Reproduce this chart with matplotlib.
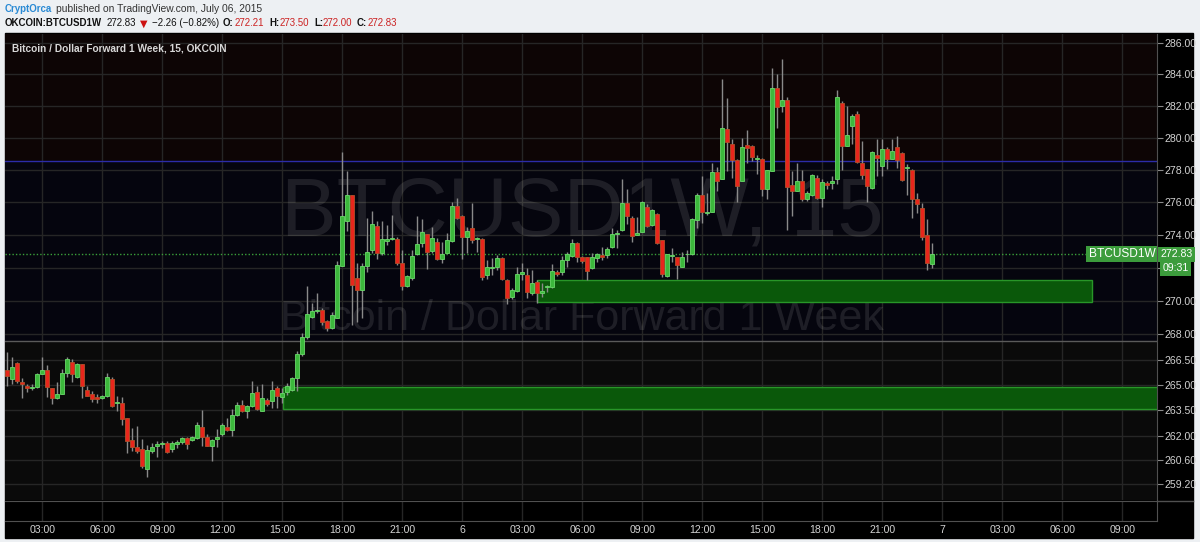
import matplotlib
matplotlib.use('Agg')
import matplotlib.pyplot as plt
from matplotlib.patches import Rectangle
from matplotlib.ticker import FixedLocator, NullLocator, FuncFormatter

plt.rcParams['font.family'] = ['Liberation Sans', 'DejaVu Sans']

# OKCOIN:BTCUSD1W, 15 minute bars, first bar 2015-07-05 01:15
opens = [265.85, 265.36, 266.32, 265.18, 264.95, 264.82, 264.87, 265.67, 265.85, 264.83,
         264.21, 264.46, 265.71, 266.36, 265.44, 266.22, 264.67, 264.46, 264.28, 264.25,
         264.32, 265.36, 263.95, 263.95, 263.06, 261.78, 261.35, 261.26, 260.06, 261.14,
         261.43, 261.55, 261.59, 261.25, 261.55, 261.63, 261.88, 261.74, 261.86, 262.53,
         261.96, 261.43, 261.84, 262.13, 262.53, 262.33, 263.23, 263.79, 263.44, 263.74,
         264.58, 263.44, 264.13, 264.03, 264.82, 264.29, 264.56, 264.67, 265.40, 266.83,
         267.82, 269.05, 269.39, 269.45, 268.79, 268.36, 269.01, 272.12, 274.89, 276.46,
         271.41, 270.67, 272.12, 273.09, 274.56, 272.89, 273.65, 273.74, 273.76, 272.32,
         270.93, 271.41, 272.83, 273.53, 274.04, 273.05, 273.56, 272.53, 272.93, 273.65,
         275.81, 275.19, 273.90, 274.42, 273.74, 273.76, 271.59, 272.02, 272.04, 272.59,
         271.27, 270.22, 270.62, 271.64, 271.58, 270.50, 271.17, 270.50, 270.83, 270.87,
         271.78, 271.78, 272.48, 272.71, 273.50, 272.65, 272.65, 271.98, 272.59, 272.77,
         272.79, 273.25, 274.04, 274.31, 275.94, 275.04, 274.00, 274.21, 275.71, 274.63,
         275.31, 273.70, 271.52, 272.73, 272.65, 272.04, 272.83, 272.85, 274.94, 276.46,
         275.36, 275.39, 277.86, 277.44, 280.56, 279.63, 278.64, 277.33, 279.56, 279.52,
         278.69, 278.69, 276.86, 277.92, 283.11, 281.98, 282.38, 277.06, 276.71, 277.33,
         276.19, 276.44, 277.50, 276.25, 277.23, 277.19, 277.48, 282.17, 279.52, 280.73,
         281.50, 278.44, 278.06, 276.92, 278.94, 278.27, 279.31, 278.69, 279.42, 279.06,
         278.15, 278.02, 276.23, 275.67, 274.00, 272.21]
highs = [266.96, 266.65, 266.36, 265.42, 265.07, 265.07, 265.70, 266.65, 266.18, 264.83,
         265.18, 265.96, 266.67, 266.53, 266.28, 266.24, 264.91, 264.62, 264.48, 264.42,
         265.69, 265.44, 264.36, 264.29, 263.06, 262.49, 262.60, 261.84, 261.49, 261.57,
         261.68, 261.72, 261.68, 261.72, 261.78, 261.92, 261.92, 262.02, 262.84, 263.50,
         262.13, 261.84, 262.43, 262.78, 263.03, 263.60, 263.99, 264.13, 263.79, 265.24,
         264.91, 265.07, 264.20, 265.24, 264.91, 264.82, 265.11, 265.48, 267.00, 268.06,
         270.91, 269.88, 270.48, 269.58, 268.85, 269.33, 272.44, 279.11, 277.92, 276.46,
         272.32, 272.32, 275.06, 275.46, 274.88, 274.88, 274.63, 275.25, 273.90, 273.09,
         271.58, 273.09, 275.19, 275.00, 274.04, 274.48, 273.80, 273.59, 274.11, 276.06,
         276.29, 275.25, 274.52, 275.98, 273.90, 273.84, 272.48, 272.59, 272.79, 272.65,
         271.32, 270.77, 272.04, 272.28, 272.00, 271.88, 271.27, 271.11, 270.97, 272.24,
         271.88, 272.73, 272.95, 273.78, 273.58, 272.73, 272.65, 272.93, 272.93, 273.29,
         273.29, 274.42, 274.31, 277.44, 276.81, 275.19, 275.08, 276.08, 275.88, 275.63,
         275.36, 273.70, 272.85, 273.19, 272.69, 272.99, 273.09, 275.04, 276.56, 277.64,
         276.56, 278.42, 278.17, 283.69, 282.48, 279.94, 278.69, 279.98, 280.50, 279.56,
         278.94, 278.73, 278.02, 284.42, 284.00, 284.98, 282.54, 277.96, 278.44, 278.02,
         276.71, 277.75, 277.69, 277.48, 277.33, 277.64, 283.02, 282.33, 282.02, 281.50,
         281.71, 279.83, 278.06, 279.21, 279.94, 279.94, 279.46, 279.94, 280.11, 279.11,
         278.38, 278.06, 276.61, 275.98, 275.00, 273.50]
lows = [264.95, 265.07, 265.13, 264.25, 264.60, 264.72, 264.82, 265.65, 264.30, 263.89,
        264.19, 264.46, 265.48, 265.18, 265.40, 264.25, 264.32, 263.99, 263.93, 264.19,
        264.28, 263.68, 263.48, 262.62, 261.02, 261.10, 261.02, 260.14, 259.61, 261.00,
        260.77, 261.31, 261.00, 261.04, 261.29, 261.55, 261.25, 261.68, 261.82, 261.43,
        261.39, 260.51, 261.35, 261.98, 262.27, 262.02, 263.19, 263.40, 263.07, 263.68,
        263.54, 263.44, 263.74, 263.66, 263.66, 263.93, 264.42, 264.62, 264.62, 266.71,
        267.71, 268.97, 269.27, 268.55, 268.18, 268.30, 268.97, 272.12, 274.27, 268.55,
        268.73, 268.97, 271.74, 272.93, 272.53, 272.79, 273.39, 273.70, 272.18, 270.67,
        270.87, 271.27, 272.79, 273.29, 271.92, 272.89, 272.48, 272.32, 272.89, 273.59,
        275.00, 272.53, 272.89, 273.53, 272.99, 271.27, 271.32, 271.58, 271.88, 271.27,
        269.82, 270.12, 270.56, 271.27, 270.16, 270.36, 269.86, 270.26, 270.56, 270.77,
        271.52, 271.58, 272.08, 272.67, 272.36, 272.28, 271.27, 271.92, 272.38, 272.48,
        272.59, 273.21, 273.19, 274.27, 274.69, 273.59, 274.00, 274.17, 274.52, 274.56,
        273.45, 271.44, 271.47, 272.38, 271.32, 272.04, 272.38, 272.79, 274.42, 274.73,
        275.25, 275.39, 276.71, 277.44, 277.96, 277.54, 276.02, 277.31, 278.44, 278.58,
        277.75, 276.39, 276.23, 277.92, 280.61, 281.61, 274.31, 275.14, 276.69, 276.08,
        276.08, 276.39, 276.19, 275.73, 276.81, 276.81, 277.13, 278.02, 279.48, 279.63,
        278.44, 277.44, 276.02, 276.81, 277.64, 277.64, 278.06, 278.69, 278.11, 277.33,
        276.46, 275.04, 275.36, 273.70, 271.90, 272.00]
closes = [265.54, 266.06, 265.20, 265.07, 264.83, 264.87, 265.67, 265.85, 264.87, 264.25,
          264.48, 265.73, 266.53, 265.67, 266.24, 264.91, 264.36, 264.19, 264.17, 264.36,
          265.44, 263.78, 264.01, 263.00, 261.68, 261.35, 261.14, 260.26, 261.20, 261.37,
          261.55, 261.59, 261.04, 261.59, 261.67, 261.88, 261.55, 261.92, 262.62, 261.94,
          261.43, 261.78, 261.94, 262.62, 262.33, 263.23, 263.79, 263.44, 263.76, 264.52,
          263.59, 264.23, 263.88, 264.72, 264.32, 264.52, 264.95, 265.40, 266.83, 267.82,
          269.25, 269.41, 269.45, 268.73, 268.36, 269.19, 272.18, 275.19, 276.46, 270.97,
          270.67, 272.12, 272.95, 274.69, 272.89, 273.74, 273.74, 273.82, 272.28, 270.91,
          271.52, 272.73, 273.44, 274.17, 272.99, 273.82, 272.53, 272.85, 273.70, 275.81,
          275.04, 273.90, 274.23, 273.70, 273.82, 271.44, 272.04, 272.08, 272.59, 271.32,
          270.16, 270.67, 271.64, 271.74, 270.56, 271.11, 270.50, 270.62, 270.91, 271.82,
          271.64, 272.48, 272.85, 273.50, 272.65, 272.44, 271.84, 272.65, 272.85, 272.65,
          273.13, 274.04, 274.14, 275.94, 275.19, 273.94, 274.14, 276.02, 274.56, 275.56,
          273.50, 271.64, 272.83, 272.81, 272.18, 272.65, 272.85, 274.98, 276.44, 275.39,
          275.42, 277.86, 277.33, 280.61, 279.73, 278.64, 277.02, 279.46, 279.36, 278.79,
          278.73, 276.81, 278.02, 283.17, 281.92, 282.39, 276.98, 276.71, 277.33, 276.19,
          276.56, 277.69, 276.29, 277.29, 277.08, 277.33, 282.58, 279.52, 280.19, 281.39,
          278.48, 277.69, 277.02, 279.14, 278.73, 279.31, 278.69, 279.21, 278.64, 277.39,
          278.19, 276.19, 275.88, 273.88, 272.30, 272.83]

price_ticks = [286.00, 284.00, 282.00, 280.00, 278.00, 276.00, 274.00, 272.00,
               270.00, 268.00, 266.50, 265.00, 263.50, 262.00, 260.60, 259.20]
hidden_tick = 272.00  # its label sits under the countdown box
time_tick_bars = [7, 19, 31, 43, 55, 67, 79, 91, 103, 115, 127, 139, 151, 163,
                  175, 187, 199, 211, 223]
time_labels = ['03:00', '06:00', '09:00', '12:00', '15:00', '18:00', '21:00', '6',
               '03:00', '06:00', '09:00', '12:00', '15:00', '18:00', '21:00', '7',
               '03:00', '06:00', '09:00']

last_price = 272.83
upper_level = 278.57
lower_level = 267.61
# drawn support zones: (from bar, to bar, low, high)
zones = [(105.9, 216.9, 269.94, 271.27),
         (55.1, 260.0, 263.58, 264.87)]

W, H = 1200, 542


def fx(px):
    return px / W


def fy(py):
    return 1 - py / H


fig = plt.figure(figsize=(W / 100, H / 100), dpi=100, facecolor='#edf0f3')

# black chart frame (price and time scales sit on it)
fig.patches.append(Rectangle((fx(5), fy(538)), fx(1193) - fx(5), fy(33) - fy(538),
                             transform=fig.transFigure, color='black', zorder=-5))

ax = fig.add_axes([fx(5), fy(500), fx(1157) - fx(5), fy(34) - fy(500)])
ax.set_facecolor('black')
ax.set_yscale('log')
ax.set_ylim(258.28, 286.57)
ax.set_xlim(-0.46, 229.94)

ax.axhspan(upper_level, 300, color='#0d0505', zorder=0)
ax.axhspan(lower_level, upper_level, color='#05050e', zorder=0)
ax.axhspan(250, lower_level, color='#0a0a0a', zorder=0)
ax.axhline(upper_level, color='#2c2ca8', lw=1, zorder=0.6)
ax.axhline(lower_level, color='#5a5a5a', lw=1, zorder=0.6)

for t in time_tick_bars:
    ax.axvline(t, color='#262626', lw=1, zorder=0.5)
for p in price_ticks:
    ax.axhline(p, color='#262626', lw=1, zorder=0.5)

ax.text(115, 275.3, 'BTCUSD1W, 15', ha='center', va='center', fontsize=60,
        color='white', alpha=0.1, zorder=0.7)
ax.text(115, 268.95, 'Bitcoin / Dollar Forward 1 Week', ha='center', va='center',
        fontsize=31, color='white', alpha=0.1, zorder=0.7)

for x0, x1, lo, hi in zones:
    ax.add_patch(Rectangle((x0, lo), x1 - x0, hi - lo, facecolor='#0a580a',
                           edgecolor='#289628', lw=1, zorder=1))

ax.axhline(last_price, color='#3aa03a', lw=1, ls=(0, (1, 1.5)), zorder=1.5)

idx = list(range(len(opens)))
up_x = [i for i in idx if closes[i] >= opens[i]]
dn_x = [i for i in idx if closes[i] < opens[i]]
ax.vlines(idx, lows, highs, color='#8a8a8a', lw=1, zorder=2)
ax.bar(up_x, [max(closes[i] - opens[i], 0.02) for i in up_x],
       bottom=[opens[i] for i in up_x], width=0.74, color='#3cb83c',
       edgecolor='#6ad86a', lw=0.6, zorder=3)
ax.bar(dn_x, [max(opens[i] - closes[i], 0.02) for i in dn_x],
       bottom=[closes[i] for i in dn_x], width=0.74, color='#e8261c',
       edgecolor='#b0502a', lw=0.6, zorder=3)

ax.yaxis.set_major_locator(FixedLocator(price_ticks))
ax.yaxis.set_minor_locator(NullLocator())
ax.yaxis.set_major_formatter(
    FuncFormatter(lambda v, pos: '' if abs(v - hidden_tick) < 0.01 else '%.2f' % v))
ax.yaxis.tick_right()
ax.tick_params(axis='y', colors='#8a8a8a', labelcolor='#d2d2d2', labelsize=7.6,
               length=4, pad=1.5)
ax.set_xticks([])
for s in ['left', 'top', 'bottom']:
    ax.spines[s].set_visible(False)
ax.spines['right'].set_color('#505050')

# last price labels
ax.text(229.6, last_price, 'BTCUSD1W', ha='right', va='center', fontsize=8.6,
        color='white', zorder=5,
        bbox=dict(boxstyle='square,pad=0.18', fc='#3c9c3c', ec='none'))
ax.text(1.003, last_price, '272.83', transform=ax.get_yaxis_transform(), ha='left',
        va='center', fontsize=7.6, color='white', zorder=5, clip_on=False,
        bbox=dict(boxstyle='square,pad=0.25', fc='#3c9c3c', ec='none'))
ax.text(1.0045, 271.98, '09:31', transform=ax.get_yaxis_transform(), ha='left',
        va='center', fontsize=7.6, color='white', zorder=6, clip_on=False,
        bbox=dict(boxstyle='square,pad=0.25', fc='#3c9c3c', ec='none'))

ax.text(0.006, 0.968, 'Bitcoin / Dollar Forward 1 Week, 15, OKCOIN',
        transform=ax.transAxes, ha='left', va='center', fontsize=7.3,
        fontweight='bold', color='#d8d8d8', zorder=6)

# lower empty pane with the time scale
ax2 = fig.add_axes([fx(5), fy(521), fx(1157) - fx(5), fy(501) - fy(521)])
ax2.set_facecolor('black')
ax2.set_xlim(ax.get_xlim())
ax2.set_ylim(0, 1)
ax2.set_yticks([])
ax2.set_xticks(time_tick_bars)
ax2.set_xticklabels(time_labels)
ax2.grid(axis='x', color='#262626', lw=1)
ax2.tick_params(axis='x', colors='#262626', labelcolor='#d2d2d2', labelsize=7.6,
                length=0, pad=3)
ax2.spines['left'].set_visible(False)
ax2.spines['top'].set_color('#505050')
ax2.spines['bottom'].set_color('#505050')
ax2.spines['right'].set_color('#505050')
fig.add_artist(plt.Line2D([fx(1157), fx(1193)], [fy(500.5), fy(500.5)],
                          color='#505050', lw=1))

# header
fig.text(fx(5), fy(8.5), 'CryptOrca', color='#2a8ad4', fontsize=7, fontweight='bold',
         va='center')
fig.text(fx(56), fy(8.5), 'published on TradingView.com, July 06, 2015', color='#333333',
         fontsize=7.4, va='center')
hdr = [(5, 'OKCOIN:BTCUSD1W', '#111111', 'bold'), (107, '272.83', '#111111', 'normal'),
       (152, '\u22122.26 (\u22120.82%)', '#111111', 'normal'),
       (223, 'O:', '#111111', 'bold'), (235, '272.21', '#cc2222', 'normal'),
       (269, 'H:', '#111111', 'bold'), (280, '273.50', '#cc2222', 'normal'),
       (314, 'L:', '#111111', 'bold'), (323, '272.00', '#cc2222', 'normal'),
       (357, 'C:', '#111111', 'bold'), (368, '272.83', '#cc2222', 'normal')]
for px, s, c, w in hdr:
    fig.text(fx(px), fy(23.5), s, color=c, fontsize=7, fontweight=w, va='center')
fig.text(fx(143.5), fy(23.5), '\u25bc', color='#cc1111', fontsize=7, ha='center',
         va='center', family=['DejaVu Sans'])

fig.savefig('out.png', dpi=100, facecolor=fig.get_facecolor())
